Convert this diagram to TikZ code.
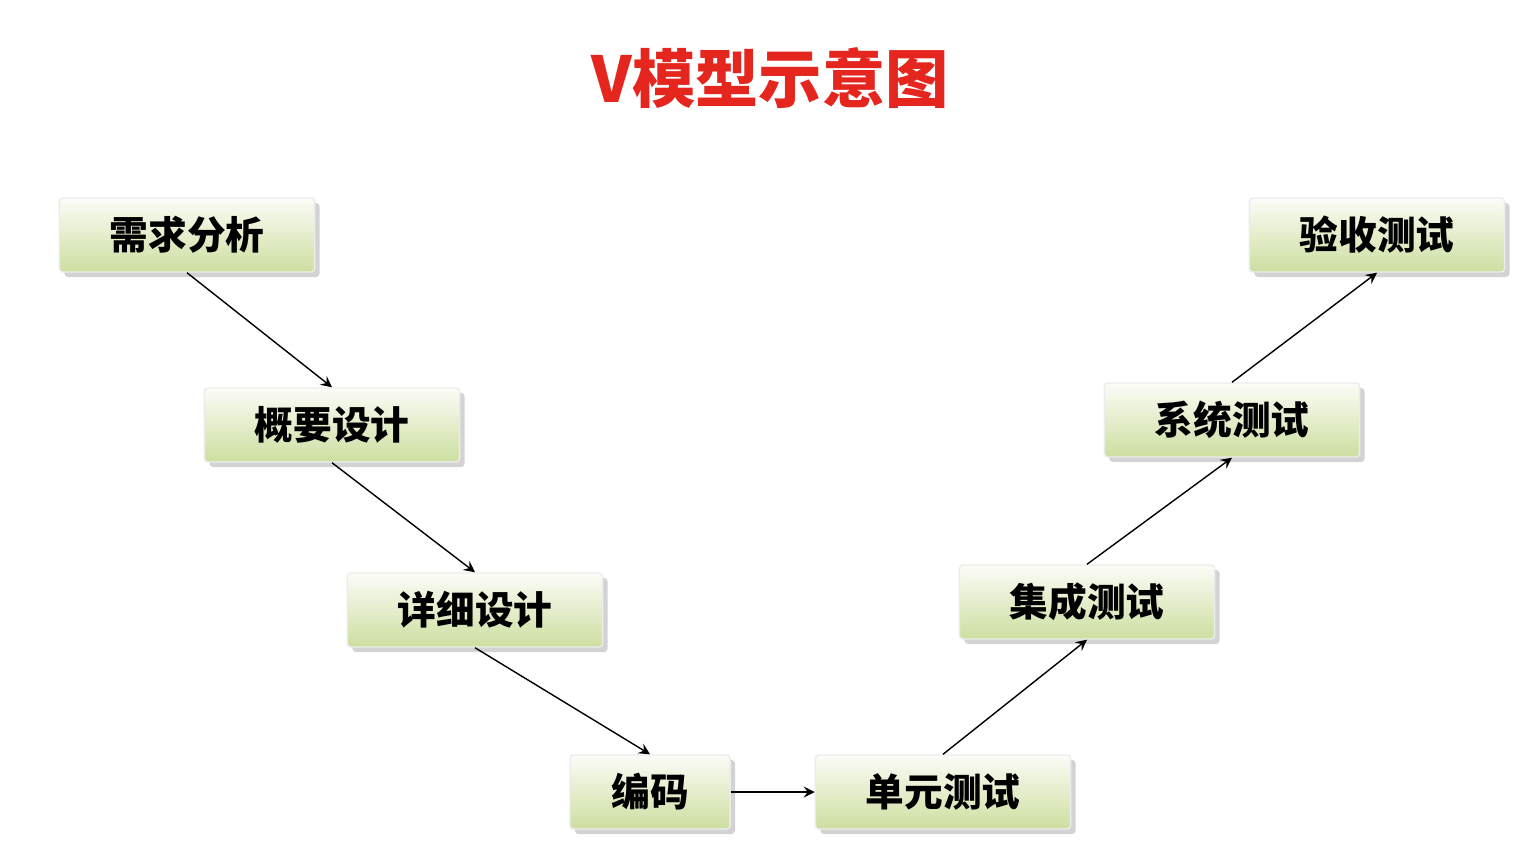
\documentclass[tikz,border=0pt]{standalone}
\usepackage{fontspec}
\newfontfamily\cjk{Noto Sans CJK SC}
\usetikzlibrary{shadows}
\definecolor{boxgreen}{RGB}{205,222,160}
\definecolor{titlered}{RGB}{228,38,30}
\tikzset{
  stage/.style={draw=white!85!gray, minimum width=2.55cm, minimum height=0.74cm,
    top color=white!92!boxgreen, bottom color=boxgreen, rounded corners=1pt,
    drop shadow={shadow xshift=0.5mm, shadow yshift=-0.5mm, opacity=0.35},
    font=\cjk\bfseries\fontsize{11}{13}\selectfont},
  flow/.style={->, >=stealth, thin}
}
\begin{document}
\begin{tikzpicture}[x=0.01cm,y=-0.01cm]
	\useasboundingbox (0,0) rectangle (1530,848);
	\node[text=titlered, font=\cjk\bfseries\fontsize{18}{20}\selectfont] (title) at (770,78) {V模型示意图};

	% left arm
	\node[stage] (req) at (187,235) {需求分析};
	\node[stage] (hld) at (332,425) {概要设计};
	\node[stage] (lld) at (475,610) {详细设计};
	\node[stage, minimum width=1.6cm] (code) at (650,792) {编码};

	% right arm
	\node[stage] (unit) at (943,792) {单元测试};
	\node[stage] (integ) at (1087,602) {集成测试};
	\node[stage] (sys) at (1232,420) {系统测试};
	\node[stage] (accept) at (1377,235) {验收测试};

	\draw[flow] (req.south) -- (hld.north);
	\draw[flow] (hld.south) -- (lld.north);
	\draw[flow] (lld.south) -- (code.north);
	\draw[flow] (code.east) -- (unit.west);
	\draw[flow] (unit.north) -- (integ.south);
	\draw[flow] (integ.north) -- (sys.south);
	\draw[flow] (sys.north) -- (accept.south);
\end{tikzpicture}
\end{document}
